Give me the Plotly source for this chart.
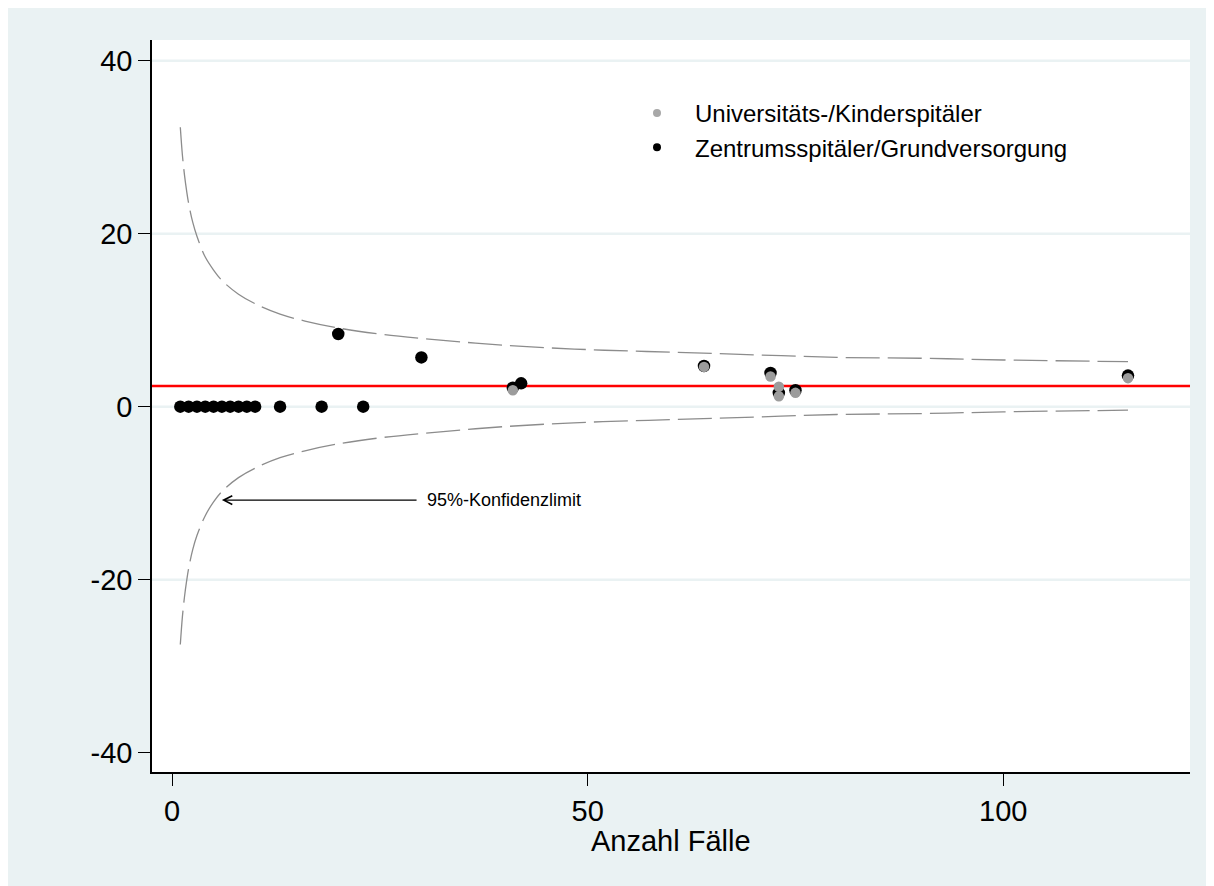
import plotly.graph_objects as go

# ---------------- data ----------------
# Zentrumsspitäler/Grundversorgung (black)
zentrum_n = [1, 2, 3, 4, 5, 6, 7, 8, 9, 10, 13, 18, 23, 20, 30, 41, 42, 64, 72, 73, 75, 115]
zentrum_rate = [0, 0, 0, 0, 0, 0, 0, 0, 0, 0, 0, 0, 0, 8.4, 5.7, 2.2, 2.7, 4.7, 3.9, 1.6, 1.9, 3.6]

# Universitäts-/Kinderspitäler (grey)
uni_n = [41, 64, 72, 73, 73, 75, 115]
uni_rate = [1.9, 4.6, 3.5, 2.3, 1.2, 1.6, 3.3]

# mean rate (red line)
mean_rate = 2.4

# 95% confidence limits
ci_n = [1, 1.25, 1.5, 1.75, 2, 2.5, 3, 4, 5, 6, 8, 10, 13, 16, 20, 25, 30, 40, 50, 60, 70, 80, 90, 100, 115]
ci_upper = [32.3, 29.1, 26.8, 25.0, 23.5, 21.3, 19.7, 17.3, 15.8, 14.6, 13.0, 11.9, 10.7, 9.9, 9.1,
            8.4, 7.9, 7.1, 6.6, 6.3, 6.0, 5.7, 5.6, 5.4, 5.2]
ci_lower = [-27.5, -24.3, -22.0, -20.2, -18.7, -16.5, -14.9, -12.6, -11.0, -9.8, -8.2, -7.1, -5.9, -5.1, -4.3,
            -3.6, -3.1, -2.3, -1.8, -1.5, -1.2, -0.9, -0.8, -0.6, -0.4]

x_ticks = [0, 50, 100]
y_ticks = [-40, -20, 0, 20, 40]
y_grid = [-20, 0, 20, 40]

annot_text = "95%-Konfidenzlimit"
annot_tip = (6, -10.8)
annot_tail_x = 29.6
annot_label_x = 30.4

x_title = "Anzahl Fälle"
legend_uni = "Universitäts-/Kinderspitäler"
legend_zentrum = "Zentrumsspitäler/Grundversorgung"

# ---------------- style ----------------
FONT = "Liberation Sans, Arial, sans-serif"
BG = "#eaf2f3"
GREY_MARK = "#9c9c9c"
CI_COLOR = "#8c8c8c"

W, H = 1214, 886
ML, MR, MT, MB = 144, 32, 32, 122
PW, PH = W - ML - MR, H - MT - MB

fig = go.Figure()

# confidence limits
for ys in (ci_upper, ci_lower):
    fig.add_trace(go.Scatter(x=ci_n, y=ys, mode="lines",
                             line=dict(color=CI_COLOR, width=1.3, dash="34px,8px", shape="spline"),
                             showlegend=False, hoverinfo="skip"))

# points
fig.add_trace(go.Scatter(x=zentrum_n, y=zentrum_rate, mode="markers",
                         marker=dict(color="black", size=12.5, line=dict(width=0)), showlegend=False))
fig.add_trace(go.Scatter(x=uni_n, y=uni_rate, mode="markers",
                         marker=dict(color=GREY_MARK, size=10.5, line=dict(width=0)), showlegend=False))

# legend-only entries
fig.add_trace(go.Scatter(x=[None], y=[None], mode="markers", name=legend_uni, legendgroup="a",
                         marker=dict(color="#a8a8a8", size=8)))
fig.add_trace(go.Scatter(x=[None], y=[None], mode="markers", name=legend_zentrum, legendgroup="b",
                         marker=dict(color="black", size=8)))

shapes = []
# outer graph region (fills the whole page area)
shapes.append(dict(type="rect", xref="paper", yref="paper", x0=-0.5, x1=1.5, y0=-0.5, y1=1.5,
                   fillcolor=BG, line=dict(width=0), layer="below"))
shapes.append(dict(type="rect", xref="paper", yref="paper", x0=0, x1=1, y0=0, y1=1,
                   fillcolor="white", line=dict(width=0), layer="below"))
for g in y_grid:
    shapes.append(dict(type="line", xref="paper", yref="y", x0=0, x1=1, y0=g, y1=g,
                       line=dict(color=BG, width=2.5), layer="below"))
shapes.append(dict(type="line", xref="paper", yref="y", x0=0, x1=1, y0=mean_rate, y1=mean_rate,
                   line=dict(color="#ff0000", width=2.5), layer="below"))

annotations = [
    dict(x=annot_tip[0], y=annot_tip[1], ax=annot_tail_x, ay=annot_tip[1], xref="x", yref="y", axref="x", ayref="y",
         text="", showarrow=True, arrowhead=5, arrowsize=1.4, arrowwidth=1.2, arrowcolor="black"),
    dict(x=annot_label_x, y=annot_tip[1], xref="x", yref="y", text=annot_text, showarrow=False,
         xanchor="left", yanchor="middle", font=dict(family=FONT, size=18, color="black")),
    dict(x=0.5, y=-(833 - (MT + PH)) / PH, xref="paper", yref="paper", text=x_title, showarrow=False,
         xanchor="center", yanchor="middle", font=dict(family=FONT, size=29, color="black")),
]

fig.update_layout(
    width=W, height=H,
    margin=dict(l=ML, r=MR, t=MT, b=MB, pad=0),
    paper_bgcolor=BG, plot_bgcolor="white",
    font=dict(family=FONT, color="black"),
    shapes=shapes, annotations=annotations,
    legend=dict(x=(611 - ML) / PW, y=1 - (83 - MT) / PH, xanchor="left", yanchor="top",
                bgcolor="rgba(0,0,0,0)", font=dict(family=FONT, size=24, color="black"),
                itemwidth=66, tracegroupgap=0),
    xaxis=dict(range=[-2.406, 122.46], tickvals=x_ticks, ticktext=[str(v) for v in x_ticks],
               ticks="outside", ticklen=12, tickwidth=1.3, tickcolor="black",
               showline=True, linecolor="black", linewidth=1.5, showgrid=False, zeroline=False,
               tickfont=dict(family=FONT, size=29, color="black")),
    yaxis=dict(range=[-42.23, 42.39], tickvals=y_ticks, ticktext=[str(v) for v in y_ticks],
               ticks="outside", ticklen=12, tickwidth=1.3, tickcolor="black",
               showline=True, linecolor="black", linewidth=1.5, showgrid=False, zeroline=False,
               tickfont=dict(family=FONT, size=29, color="black")),
)

fig.write_html("out.html")
